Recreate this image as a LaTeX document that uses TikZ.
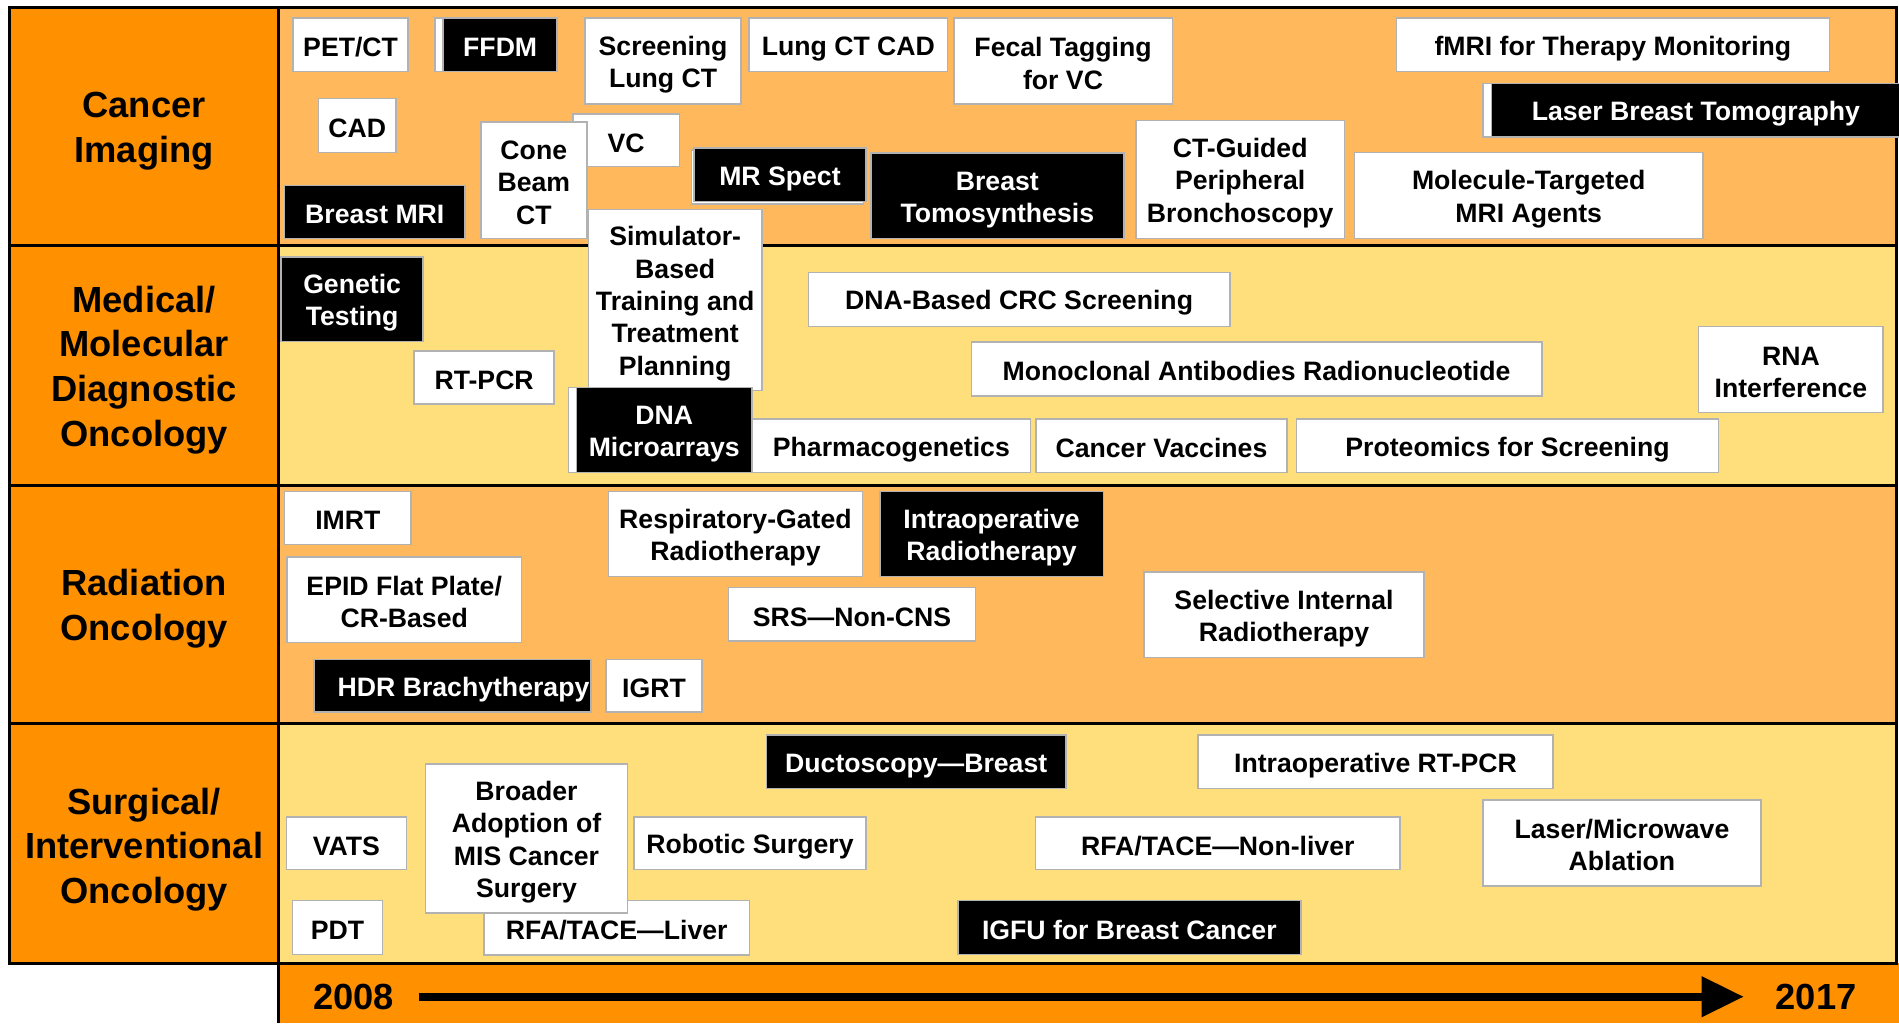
\documentclass[tikz,border=0pt]{standalone}
\usepackage{fontspec}
\setmainfont{Liberation Sans}
\usetikzlibrary{arrows.meta}
\definecolor{catorange}{RGB}{255,145,0}
\definecolor{rowA}{RGB}{255,185,92}
\definecolor{rowB}{RGB}{255,223,123}
\definecolor{boxgray}{RGB}{178,178,178}
\newcommand\sv{\rule[-0.1em]{0pt}{1.089em}}
\newcommand\bx[7]{\node[#6, minimum width={#4-#2}, minimum height={#5-#3}] (#1) at ({(#2+#4)/2},{(#3+#5)/2}) {\sv#7\sv};}
\begin{document}
\begin{tikzpicture}[x=1pt,y=-1pt,
  wbox/.style={draw=boxgray,line width=1.3pt,fill=white,text=black,inner sep=0pt,align=center,
    font=\fontsize{22}{26.7}\selectfont\bfseries},
  kbox/.style={wbox,fill=black,text=white},
  cat/.style={font=\fontsize{30}{37}\selectfont\bfseries,align=center,text=black,inner sep=0pt},
  year/.style={font=\fontsize{30}{36}\selectfont\bfseries,text=black,inner sep=0pt},
  frame/.style={line width=2.4pt,draw=black}]
\useasboundingbox (0,0) rectangle (1568,845);
\fill[white] (0,0) rectangle (1568,845);
% backgrounds
\fill[catorange] (7.5,6) rectangle (230,795.5);
\fill[rowA] (230,6) rectangle (1566,203);
\fill[rowB] (230,203) rectangle (1566,400.5);
\fill[rowA] (230,400.5) rectangle (1566,597.5);
\fill[rowB] (230,597.5) rectangle (1566,795.5);
\fill[catorange] (230,795.5) rectangle (1568,845);
\draw[frame] (7.5,6) rectangle (1566,795.5);
\draw[frame] (7.5,203) -- (1566,203);
\draw[frame] (7.5,400.5) -- (1566,400.5);
\draw[frame] (7.5,597.5) -- (1566,597.5);
\draw[frame] (230,6) -- (230,845);
% categories
\node[cat] (c1) at (119,108.5) {Cancer\\Imaging};
\node[cat] (c2) at (119,305.5) {Medical/\\Molecular\\Diagnostic\\Oncology};
\node[cat] (c3) at (119,502.5) {Radiation\\Oncology};
\node[cat] (c4) at (119,701.5) {Surgical/\\Interventional\\Oncology};
% row 1
\bx{petct}{242}{15}{337}{59}{wbox}{PET/CT}
\bx{ffdmb}{359}{15}{460}{59}{wbox}{}
\bx{ffdm}{366}{15}{460}{59}{kbox}{FFDM}
\bx{slct}{483}{15}{612}{86}{wbox}{Screening\\Lung CT}
\bx{lcad}{618.5}{15}{782.5}{59}{wbox}{Lung CT CAD}
\bx{fecal}{787.5}{15}{968}{86}{wbox}{Fecal Tagging\\for VC}
\bx{fmri}{1153}{15}{1510.5}{59}{wbox}{fMRI for Therapy Monitoring}
\bx{lbtb}{1224.5}{69}{1572}{113}{wbox}{}
\bx{lbt}{1231.5}{69}{1572}{113}{kbox}{Laser Breast Tomography\hspace*{3pt}}
\bx{cad}{263}{81.5}{327}{126}{wbox}{CAD}
\bx{bmri}{235}{153}{384}{197}{kbox}{Breast MRI}
\bx{vc}{473}{94}{561}{137.5}{wbox}{VC}
\bx{cbct}{397}{100.5}{484.5}{197}{wbox}{Cone\\Beam\\CT}
\bx{mrsb}{571}{124}{713}{168.5}{wbox}{}
\bx{mrs}{573}{122}{715}{166.5}{kbox}{MR Spect}
\bx{btomo}{719}{126.5}{928}{197}{kbox}{Breast\\Tomosynthesis}
\bx{ctg}{938}{99.5}{1110}{197}{wbox}{CT-Guided\\Peripheral\\Bronchoscopy}
\bx{mol}{1118.5}{126}{1406}{197}{wbox}{Molecule-Targeted\\MRI Agents}
\bx{sim}{486}{173}{629}{322.5}{wbox}{Simulator-\\Based\\Training and\\Treatment\\Planning}
% row 2
\bx{gen}{232}{212}{349.5}{282}{kbox}{Genetic\\Testing}
\bx{rtpcr}{342}{290}{457.5}{333.5}{wbox}{RT-PCR}
\bx{dnab}{469.5}{320}{621}{390}{wbox}{}
\bx{dna}{476}{320}{621}{390}{kbox}{DNA\\Microarrays}
\bx{pharm}{621}{346}{851}{390}{wbox}{Pharmacogenetics}
\bx{vacc}{855.5}{346}{1062.5}{390}{wbox}{Cancer Vaccines}
\bx{prot}{1070.5}{346}{1419}{390}{wbox}{Proteomics for Screening}
\bx{dnacrc}{667.5}{225}{1015.5}{269.5}{wbox}{DNA-Based CRC Screening}
\bx{mono}{802}{282.5}{1273}{327}{wbox}{Monoclonal Antibodies Radionucleotide}
\bx{rna}{1402.5}{269.5}{1555}{340.5}{wbox}{RNA\\Interference}
% row 3
\bx{imrt}{235}{406}{339.5}{449.5}{wbox}{IMRT}
\bx{epid}{237}{460}{430.5}{530.5}{wbox}{EPID Flat Plate/\\CR-Based}
\bx{hdr}{259.5}{544.5}{488}{588}{kbox}{\hspace*{18pt}HDR Brachytherapy}
\bx{igrt}{500.5}{544.5}{579.5}{588}{wbox}{IGRT}
\bx{resp}{502.5}{406}{712}{476}{wbox}{Respiratory-Gated\\Radiotherapy}
\bx{iort}{726.5}{406}{911}{476}{kbox}{Intraoperative\\Radiotherapy}
\bx{srs}{601.5}{485}{805.5}{529.5}{wbox}{SRS—Non-CNS}
\bx{sirt}{944.5}{472.5}{1176}{543}{wbox}{Selective Internal\\Radiotherapy}
% row 4
\bx{vats}{236.5}{674.5}{335.5}{718}{wbox}{VATS}
\bx{pdt}{241.5}{743.5}{316}{788}{wbox}{PDT}
\bx{rfal}{399.5}{743.5}{619}{788.5}{wbox}{RFA/TACE—Liver}
\bx{broad}{351.5}{631}{518}{754}{wbox}{Broader\\Adoption of\\MIS Cancer\\Surgery}
\bx{robot}{523.5}{674.5}{715}{718}{wbox}{Robotic Surgery}
\bx{duct}{633}{607}{880}{651}{kbox}{Ductoscopy—Breast}
\bx{igfu}{791}{743.5}{1074}{788}{kbox}{IGFU for Breast Cancer}
\bx{rfan}{855}{674.5}{1156}{718}{wbox}{RFA/TACE—Non-liver}
\bx{iopcr}{989}{607}{1282.5}{651}{wbox}{Intraoperative RT-PCR}
\bx{laser}{1224.5}{660.5}{1454}{731.5}{wbox}{Laser/Microwave\\Ablation}
% timeline
\node[year] (y08) at (292,823) {2008};
\node[year] (y17) at (1499.5,823) {2017};
\draw[line width=7pt,-{Triangle[length=35pt,width=32pt]}] ([xshift=20pt]y08.east) -- ([xshift=-26pt]y17.west);
\end{tikzpicture}
\end{document}
